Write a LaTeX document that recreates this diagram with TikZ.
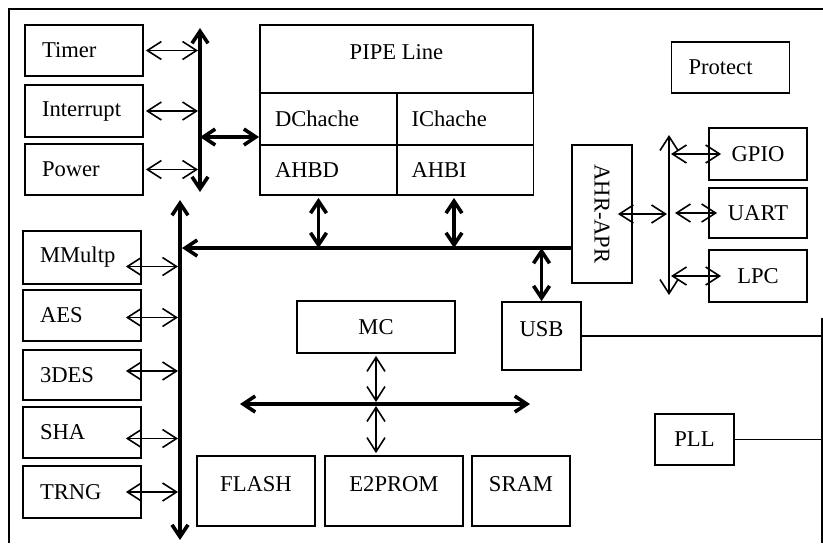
\documentclass[tikz,border=0pt]{standalone}
\usepackage{fontspec}
\setmainfont{Liberation Serif}
\usetikzlibrary{arrows.meta, calc}

\begin{document}
\begin{tikzpicture}[x=0.5pt, y=-0.5pt,
    blk/.style={draw, line width=0.9pt, inner sep=0pt, font=\fontsize{11.3}{13}\selectfont},
    lblk/.style={blk, text width=42pt, inner xsep=8.5pt, align=left},
    cell/.style={blk, text width=53.5pt, inner xsep=7.5pt, align=left},
    lowtext/.style={text height=9pt, text depth=9pt},
    lnk/.style={line width=0.8pt, shorten <=1pt, shorten >=1pt,
        {Straight Barb[length=7pt,width=9pt]}-{Straight Barb[length=7pt,width=9pt]}},
    bus/.style={line width=1.8pt,
        {Straight Barb[length=6pt,width=8pt]}-{Straight Barb[length=6pt,width=8pt]}},
]
    \useasboundingbox (0,0) rectangle (823,543);

    % Frame
    \coordinate (frameR) at (822,318);
    \draw[line width=0.9pt] (9,543) -- (9,9) -- (823,9);
    \draw[line width=0.9pt] (frameR) -- (822,543);

    % System blocks
    \node[lblk, minimum height=25.5pt] (timer) at (84,50.5) {Timer};
    \node[lblk, minimum height=26pt] (interrupt) at (84,111) {Interrupt};
    \node[lblk, minimum height=25.5pt] (power) at (84,169.5) {Power};

    % CPU core
    \node[blk, lowtext, minimum width=136.5pt, minimum height=34pt] (pipe) at (396.5,59) {PIPE Line};
    \node[cell, minimum height=26pt] (dcache) at (328.5,119) {DChache};
    \node[cell, minimum height=26pt] (icache) at (465,119) {IChache};
    \node[cell, minimum height=25pt] (ahbd) at (328.5,170) {AHBD};
    \node[cell, minimum height=25pt] (ahbi) at (465,170) {AHBI};

    % Peripherals
    \node[lblk, minimum height=25.5pt] (protect) at (730.5,67.5) {Protect};
    \node[blk, minimum width=30pt, minimum height=69pt] (ahrapr) at (602,214) {\rotatebox{-90}{AHR-APR}};
    \node[blk, minimum width=49pt, minimum height=26pt] (gpio) at (758,154) {GPIO};
    \node[blk, minimum width=49pt, minimum height=25pt] (uart) at (758,213) {UART};
    \node[blk, minimum width=49pt, minimum height=26pt] (lpc) at (758,276) {LPC};
    \node[blk, lowtext, minimum width=39.5pt, minimum height=34pt] (usb) at (541.5,336) {USB};
    \node[blk, minimum width=39.5pt, minimum height=25.5pt] (pll) at (694.5,439.5) {PLL};

    % Crypto blocks
    \node[lblk, minimum height=26.5pt] (mmultp) at (82,257.5) {MMultp};
    \node[lblk, minimum height=25.5pt] (aes) at (82,315.5) {AES};
    \node[lblk, minimum height=25pt] (des) at (82,375) {3DES};
    \node[lblk, minimum height=25.5pt] (sha) at (82,432.5) {SHA};
    \node[lblk, minimum height=26pt] (trng) at (82,492) {TRNG};

    % Memory
    \node[blk, minimum width=79pt, minimum height=26pt] (mc) at (376,327) {MC};
    \node[blk, lowtext, minimum width=59pt, minimum height=35pt] (flash) at (256,491) {FLASH};
    \node[blk, lowtext, minimum width=69pt, minimum height=35pt] (e2prom) at (394,491) {E2PROM};
    \node[blk, lowtext, minimum width=49pt, minimum height=35pt] (sram) at (521,491) {SRAM};

    % Bus ends
    \coordinate (busAtop) at (200,28);
    \coordinate (busAbot) at (200,192);
    \coordinate (busBtop) at (180,200);
    \coordinate (busBbot) at (180,540);
    \coordinate (hbusL) at (182,248);
    \coordinate (busCtop) at (669,135);
    \coordinate (busCbot) at (669,295);
    \coordinate (mbusL) at (240,404);
    \coordinate (mbusR) at (530,404);
    \coordinate (ptap) at ($(dcache.west)+(0,18)$);
    \coordinate (dtap) at ($(ahbd.south)+(-10,2)$);
    \coordinate (itap) at ($(ahbi.south)+(-11,2)$);

    % Buses
    \draw[bus] (busAtop) -- (busAbot);
    \draw[bus] (busBtop) -- (busBbot);
    \draw[line width=1.8pt, {Straight Barb[length=6pt,width=8pt]}-] (hbusL) -- (ahrapr.west |- hbusL);
    \draw[lnk, shorten <=0pt, shorten >=0pt] (busCtop) -- (busCbot);
    \draw[bus] (mbusL) -- (mbusR);

    % Links
    \foreach \b in {timer, interrupt, power}
        \draw[lnk] (\b.east) -- (\b.east -| busAtop);
    \draw[bus] (ptap -| busAtop) -- (ptap);
    \foreach \b/\d in {mmultp/-4.5pt, aes/-1pt, des/2pt, sha/-3pt, trng/0pt}
        \draw[lnk, shorten <=0pt] ([xshift=-8pt, yshift=\d]\b.east) -- ([yshift=\d]\b.east -| busBtop);
    \draw[bus] (dtap) -- (dtap |- hbusL);
    \draw[bus] (itap) -- (itap |- hbusL);
    \draw[bus] (usb.north) -- (usb.north |- hbusL);
    \draw[lnk, shorten <=0pt] ([xshift=-7.5pt]ahrapr.east) -- (ahrapr.east -| busCtop);
    \draw[lnk, shorten >=0pt] (gpio.west -| busCtop) -- ([xshift=6.5pt]gpio.west);
    \draw[lnk, shorten <=3pt, shorten >=0pt] (uart.west -| busCtop) -- ([xshift=4.5pt]uart.west);
    \draw[lnk, shorten >=0pt] (lpc.west -| busCtop) -- ([xshift=6.5pt]lpc.west);
    \draw[lnk] (mc.south) -- (mc.south |- mbusL);
    \draw[lnk] (mc.south |- e2prom.north) -- (mc.south |- mbusL);
    \draw[line width=0.9pt] (usb.east) -- (usb.east -| frameR);
    \draw[line width=0.9pt] (pll.east) -- (pll.east -| frameR);
\end{tikzpicture}
\end{document}
